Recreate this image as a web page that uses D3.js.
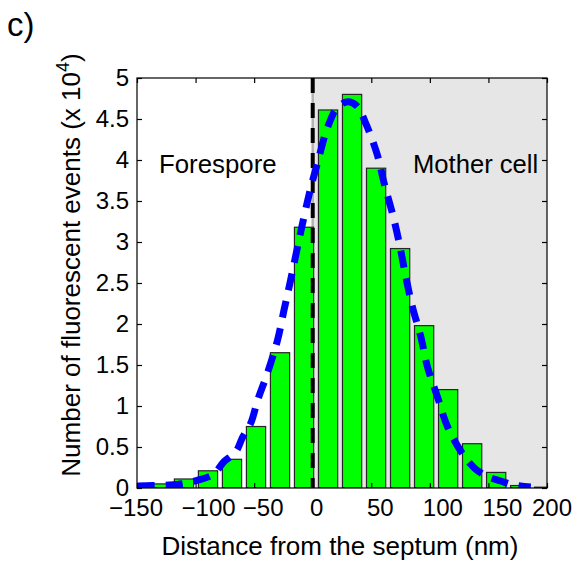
<!DOCTYPE html>
<html>
<head>
<meta charset="utf-8">
<script src="https://cdn.jsdelivr.net/npm/d3@7"></script>
<style>
  html, body { margin: 0; padding: 0; background: #fff; }
  svg { display: block; }
  text { font-family: "Liberation Sans", Arial, Helvetica, sans-serif; fill: #000; }
</style>
</head>
<body>
<svg id="chart" width="578" height="562"></svg>
<script>
// Histogram of fluorescent events vs. distance from the septum (nm), counts in units of 10^4
const binCenters = [-130.4, -109.9, -89.4, -68.9, -48.4, -27.9, -7.4, 13.1, 33.6, 54.1, 74.6, 95.1, 115.6, 136.1, 156.6, 177.1, 197.6];
const binCounts  = [0.05, 0.11, 0.21, 0.35, 0.75, 1.65, 3.18, 4.61, 4.80, 3.90, 2.92, 1.98, 1.20, 0.54, 0.19, 0.03, 0.01];

// Fitted distribution (dashed blue), sampled points
const fitX = [-149.4, -136.6, -122.9, -110.1, -97.3, -84.5, -76.0, -65.7, -59.8, -52.9, -47.0, -38.7, -30.1, -24.5, -18.8, -13.1, -7.4, -1.7, 4.0, 12.5, 20.5, 29.6, 37.6, 45.2, 55.2, 60.9, 68.0, 73.7, 79.4, 85.1, 92.2, 97.9, 106.5, 115.0, 127.8, 138.3, 149.1, 160.5, 171.8, 186.1];
const fitY = [0.024, 0.03, 0.037, 0.055, 0.098, 0.17, 0.317, 0.44, 0.62, 0.79, 1.07, 1.40, 1.80, 2.17, 2.54, 2.93, 3.31, 3.66, 3.96, 4.39, 4.63, 4.71, 4.66, 4.45, 4.06, 3.72, 3.35, 3.00, 2.58, 2.21, 1.85, 1.48, 1.11, 0.75, 0.42, 0.24, 0.14, 0.085, 0.037, 0.012];

const xTicks = [-150, -100, -50, 0, 50, 100, 150, 200];
const yTicks = [0, 0.5, 1, 1.5, 2, 2.5, 3, 3.5, 4, 4.5, 5];
const septum = 0;

// Layout
const L = 137, R = 547, T = 78, B = 488;
const tickLen = 5;
// horizontal offsets (px) of the x tick labels
const xLabelNudge = [-1, 13, 9, 4, 9, 13, 14, 5];

const svg = d3.select("#chart");
const x = d3.scaleLinear().domain([-150, 200]).range([L, R]);
const y = d3.scaleLinear().domain([0, 5]).range([B, T]);

svg.append("defs").append("clipPath").attr("id", "plotClip")
  .append("rect").attr("x", L).attr("y", T).attr("width", R - L).attr("height", B - T);

const plot = svg.append("g").attr("clip-path", "url(#plotClip)");

// Mother-cell side shading
plot.append("rect")
  .attr("x", x(septum)).attr("y", T)
  .attr("width", R - x(septum)).attr("height", B - T)
  .attr("fill", "#e6e6e6");
plot.append("line")
  .attr("x1", x(septum)).attr("x2", x(septum)).attr("y1", T).attr("y2", B)
  .attr("stroke", "#b4b4b4").attr("stroke-width", 2.5);

// Bars
const binStep = binCenters[1] - binCenters[0];
const barW = x(binStep * 0.8) - x(0);
plot.selectAll("rect.bar").data(binCenters).join("rect")
  .attr("class", "bar")
  .attr("x", (d) => x(d) - barW / 2)
  .attr("y", (d, i) => y(binCounts[i]))
  .attr("width", barW)
  .attr("height", (d, i) => y(0) - y(binCounts[i]))
  .attr("fill", "#00ff00")
  .attr("stroke", "#262626")
  .attr("stroke-width", 1.2);

// Septum position
plot.append("line")
  .attr("x1", x(septum)).attr("x2", x(septum)).attr("y1", T).attr("y2", B)
  .attr("stroke", "#000").attr("stroke-width", 4)
  .attr("stroke-dasharray", "15 10");

// Fitted curve
const line = d3.line()
  .x((d) => x(d[0]))
  .y((d) => y(d[1]))
  .curve(d3.curveCatmullRom);
plot.append("path")
  .datum(fitX.map((v, i) => [v, fitY[i]]))
  .attr("d", line)
  .attr("fill", "none")
  .attr("stroke", "#0000ff")
  .attr("stroke-width", 7)
  .attr("stroke-dasharray", "17 11");

// Axes box with inward ticks on all four sides
const axes = svg.append("g");
axes.append("rect")
  .attr("x", L).attr("y", T).attr("width", R - L).attr("height", B - T)
  .attr("fill", "none").attr("stroke", "#000").attr("stroke-width", 1.2);

const xAxisB = d3.axisBottom(x).tickValues(xTicks).tickSize(-tickLen).tickFormat("");
const xAxisT = d3.axisTop(x).tickValues(xTicks).tickSize(-tickLen).tickFormat("");
const yAxisL = d3.axisLeft(y).tickValues(yTicks).tickSize(-tickLen).tickFormat("");
const yAxisR = d3.axisRight(y).tickValues(yTicks).tickSize(-tickLen).tickFormat("");
[[xAxisB, `translate(0,${B})`], [xAxisT, `translate(0,${T})`],
 [yAxisL, `translate(${L},0)`], [yAxisR, `translate(${R},0)`]].forEach(([ax, tr]) => {
  const g = axes.append("g").attr("transform", tr).call(ax);
  g.select(".domain").remove();
  g.selectAll(".tick line").attr("stroke", "#000").attr("stroke-width", 1.2);
});

// Tick labels
const fmtX = (v) => (v < 0 ? "\u2212" + Math.abs(v) : String(v));
svg.append("g").selectAll("text").data(xTicks).join("text")
  .attr("x", (d, i) => x(d) + xLabelNudge[i])
  .attr("y", B + 28)
  .attr("text-anchor", "middle")
  .attr("font-size", 24)
  .text(fmtX);

svg.append("g").selectAll("text").data(yTicks).join("text")
  .attr("x", L - 8)
  .attr("y", (d) => y(d))
  .attr("dy", "0.34em")
  .attr("text-anchor", "end")
  .attr("font-size", 24)
  .text((d) => String(d));

// Axis titles
svg.append("text")
  .attr("x", 340).attr("y", 555)
  .attr("text-anchor", "middle")
  .attr("font-size", 26)
  .text("Distance from the septum (nm)");

const yTitle = svg.append("text")
  .attr("transform", "translate(80,265) rotate(-90)")
  .attr("text-anchor", "middle")
  .attr("font-size", 26);
yTitle.append("tspan").text("Number of fluorescent events (x 10");
yTitle.append("tspan").attr("font-size", 18).attr("dy", -11).text("4");
yTitle.append("tspan").attr("dy", 11).text(")");

// Region labels
svg.append("text").attr("x", 159).attr("y", 173).attr("font-size", 25.8).text("Forespore");
svg.append("text").attr("x", 413).attr("y", 173).attr("font-size", 25.6).text("Mother cell");

// Panel label
svg.append("text").attr("x", 7).attr("y", 36).attr("font-size", 33).text("c)");
</script>
</body>
</html>
